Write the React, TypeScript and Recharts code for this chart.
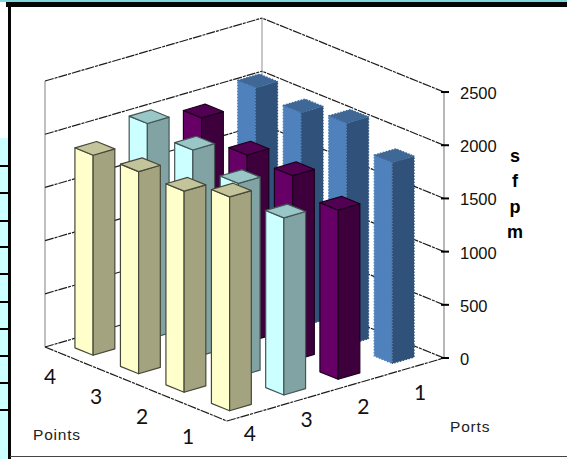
import React from "react";
import { ComposedChart, Scatter, XAxis, YAxis, ReferenceLine } from "recharts";

const WIDTH = 567;
const HEIGHT = 459;

const points = [1, 2, 3, 4];
const ports = [1, 2, 3, 4];
const valueTicks = [0, 500, 1000, 1500, 2000, 2500];
const axisTitle = ["s", "f", "p", "m"];

// sfpm per point (1..4), one list per port
const port1Values = [1890, 2085, 2010, 2070];
const port2Values = [1590, 1740, 1760, 1935];
const port3Values = [1665, 1815, 1955, 2030];
const port4Values = [2010, 1890, 1900, 1880];

const portValues = [port1Values, port2Values, port3Values, port4Values];

// blue columns have no edge colour: their outline is a dotted run of the face colour
const portColors = [
  { front: "#4f81bd", side: "#30527a", top: "#3f6897", edge: null, dash: "1.5 1.5" },
  { front: "#660066", side: "#3d003d", top: "#520052", edge: "#1c001c", dash: undefined },
  { front: "#ccffff", side: "#82a3a3", top: "#99c6c6", edge: "#445656", dash: undefined },
  { front: "#ffffcc", side: "#a3a37f", top: "#c4c49a", edge: "#48483a", dash: undefined },
];

const sideBorders = [165, 192, 220, 246, 273, 301, 328, 355, 382, 409];

// the y domain runs below zero and above the top tick so the floor fits in the plot
const Y_MIN = -949;
const Y_MAX = 3365;
const PX_PER_VALUE = HEIGHT / (Y_MAX - Y_MIN);
const RIGHT_EDGE = 444;

// oblique floor projection: u steps across ports, v steps back through points
const STEP_U = { x: -54.25, y: -148 };
const STEP_V = { x: -45.5, y: 173.9 };

const project = (u: number, v: number, value = 0) => ({
  x: RIGHT_EDGE + STEP_U.x * u + STEP_V.x * v,
  y: value + STEP_U.y * u + STEP_V.y * v,
});

// half extents of a column footprint in pixels
const HALF_A = { x: 10.85, y: -3.15 };
const HALF_B = { x: -9.1, y: -3.7 };

const poly = (pts: number[][]) => pts.map((p) => p.join(",")).join(" ");

const Column = (props: any) => {
  const { cx, cy, payload } = props;
  const c = portColors[payload.portIndex];
  const h = payload.value * PX_PER_VALUE;
  const front = [cx - HALF_A.x - HALF_B.x, cy - HALF_A.y - HALF_B.y];
  const right = [cx + HALF_A.x - HALF_B.x, cy + HALF_A.y - HALF_B.y];
  const left = [cx - HALF_A.x + HALF_B.x, cy - HALF_A.y + HALF_B.y];
  const back = [cx + HALF_A.x + HALF_B.x, cy + HALF_A.y + HALF_B.y];
  const down = (p: number[]) => [p[0], p[1] + h];
  const stroke = (fill: string) => ({
    stroke: c.edge ?? fill,
    strokeWidth: 1.2,
    strokeDasharray: c.dash,
    strokeLinejoin: "round" as const,
  });
  return (
    <g>
      <polygon points={poly([left, front, down(front), down(left)])} fill={c.front} {...stroke(c.front)} />
      <polygon points={poly([front, right, down(right), down(front)])} fill={c.side} {...stroke(c.side)} />
      <polygon points={poly([left, back, right, front])} fill={c.top} {...stroke(c.top)} />
    </g>
  );
};

const columnData = (portIndex: number) =>
  [...points].reverse().map((point) => {
    const value = portValues[portIndex][point - 1];
    const { x, y } = project(portIndex + 0.5, point - 0.5, value);
    return { x, y, value, portIndex };
  });

const ValueTick = (props: any) => {
  const { x, y, payload } = props;
  return (
    <g>
      <line x1={x - 11} x2={x - 3} y1={y} y2={y} stroke="#000" strokeWidth={2} />
      <text x={x + 8} y={y + 7} fontSize={16.5} fontFamily="Liberation Sans" fill="#111">
        {payload.value}
      </text>
    </g>
  );
};

const gridSegment = (
  a: { x: number; y: number },
  b: { x: number; y: number },
  key: string,
  color = "#1c1c1c",
  dash = "9 1 3 1",
  strokeWidth = 1.2
) => (
  <ReferenceLine
    key={key}
    segment={[a, b]}
    stroke={color}
    strokeWidth={strokeWidth}
    strokeDasharray={dash}
    ifOverflow="visible"
  />
);

const labelFont = { fontFamily: "Lato", fontSize: 21, fill: "#111", textAnchor: "middle" as const };
const noteFont = { fontFamily: "Liberation Sans", fontSize: 15.5, fill: "#222", letterSpacing: 0.8 };

export default function App() {
  return (
    <div style={{ position: "absolute", left: 0, top: 0, width: WIDTH, height: HEIGHT, background: "#fff", overflow: "hidden" }}>
      {/* slide furniture around the chart frame */}
      <div style={{ position: "absolute", left: 0, top: 138, width: 8, height: 321, background: "#ccffff" }} />
      {sideBorders.map((y) => (
        <div key={y} style={{ position: "absolute", left: 0, top: y, width: 8, height: 2, background: "#000" }} />
      ))}
      <div style={{ position: "absolute", left: 0, top: 0, width: WIDTH, height: 2, background: "#7fd8dc" }} />
      <div style={{ position: "absolute", left: 6, top: 2, width: WIDTH - 6, height: 5, background: "#050505" }} />
      <div style={{ position: "absolute", left: 8, top: 2, width: 3, height: 457, background: "#050505" }} />
      <div style={{ position: "absolute", left: 10, top: 456, width: WIDTH - 10, height: 1, background: "#444" }} />

      <ComposedChart
        width={WIDTH}
        height={HEIGHT}
        data={[]}
        margin={{ top: 0, right: 0, bottom: 0, left: 0 }}
        style={{ position: "absolute", left: 0, top: 0 }}
      >
        <XAxis type="number" dataKey="x" domain={[0, RIGHT_EDGE]} hide />
        <YAxis
          type="number"
          dataKey="y"
          orientation="right"
          width={WIDTH - RIGHT_EDGE}
          domain={[Y_MIN, Y_MAX]}
          ticks={valueTicks}
          interval={0}
          axisLine={false}
          tickLine={false}
          tick={<ValueTick />}
        />

        {/* wall edges */}
        {gridSegment(project(0, 0), project(0, 0, 2500), "edge-right", "#a6a6a6", "none", 1.6)}
        {gridSegment(project(0, 4), project(0, 4, 2500), "edge-back", "#b0b0b0", "none", 1.4)}
        {gridSegment(project(4, 4), project(4, 4, 2500), "edge-left", "#a6a6a6", "none", 1.4)}

        {/* wall grid */}
        {valueTicks.map((t) => gridSegment(project(0, 0, t), project(0, 4, t), `right-${t}`))}
        {valueTicks.map((t) => gridSegment(project(4, 4, t), project(0, 4, t), `left-${t}`))}

        {/* floor front edges */}
        {gridSegment(project(4, 4), project(4, 0), "floor-left")}
        {gridSegment(project(4, 0), project(0, 0), "floor-right")}

        {ports.map((port, i) => (
          <Scatter
            key={port}
            name={`Port ${port}`}
            data={columnData(i)}
            dataKey="y"
            shape={<Column />}
            isAnimationActive={false}
          />
        ))}

        {ports.map((port, i) => (
          <text key={port} x={420 - i * 56.7} y={400 + i * 13.7} {...labelFont}>
            {port}
          </text>
        ))}
        {points.map((point, i) => (
          <text key={point} x={188 - i * 46} y={444 - i * 20} {...labelFont}>
            {point}
          </text>
        ))}
        <text x={33} y={440} {...noteFont}>Points</text>
        <text x={450} y={432} {...noteFont}>Ports</text>
        {axisTitle.map((letter, i) => (
          <text key={letter} x={515} y={162 + i * 25.3} fontFamily="Liberation Sans" fontSize={18} fontWeight="bold" textAnchor="middle" fill="#000">
            {letter}
          </text>
        ))}
      </ComposedChart>
    </div>
  );
}
